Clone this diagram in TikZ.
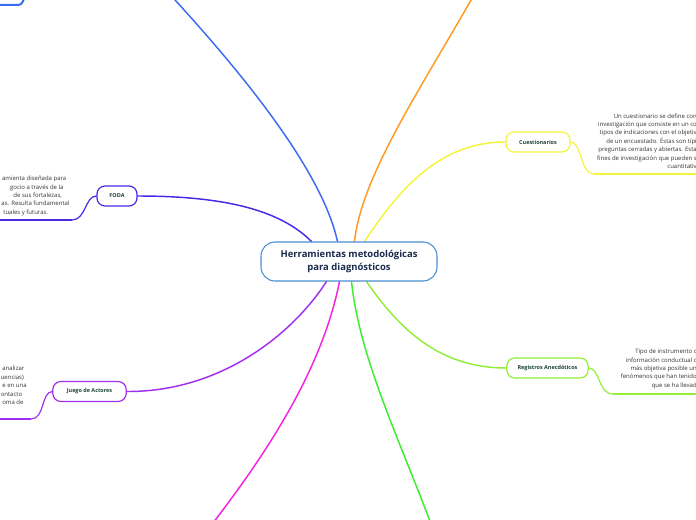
\documentclass[tikz,border=0pt]{standalone}
\usepackage{fontspec}
\setmainfont{Open Sans}
\usetikzlibrary{calc,backgrounds}
\definecolor{cblue}{HTML}{3D6AF2}
\definecolor{corange}{HTML}{FF9A22}
\definecolor{cyellow}{HTML}{F4F43C}
\definecolor{cfoda}{HTML}{4A28E8}
\definecolor{cjuego}{HTML}{A22EF0}
\definecolor{cmag}{HTML}{F522E0}
\definecolor{cgreen}{HTML}{3CEE2E}
\definecolor{clime}{HTML}{92EE36}
\definecolor{cmain}{HTML}{4A8ED4}
\definecolor{cmaintext}{HTML}{1B2B4C}
\definecolor{ctext}{HTML}{1D4438}
\definecolor{cdesc}{HTML}{333333}
\begin{document}
\begin{tikzpicture}[x=0.75pt,y=-0.75pt,
  branch/.style={line width=1.1pt, line cap=round},
  uline/.style={line width=1.5pt},
  mainbox/.style={draw=cmain, fill=white, line width=0.8pt, rounded corners=10.5pt,
    minimum width=132pt, minimum height=29.25pt, inner sep=0pt, align=center,
    text=cmaintext, font=\fontsize{7.1}{9.75}\selectfont\bfseries},
  topic/.style={draw, fill=white, line width=0.9pt, rounded corners=6pt,
    minimum height=15pt, inner sep=0pt, text=ctext,
    font=\fontsize{4.1}{5}\selectfont\bfseries},
  desc/.style={inner sep=0pt, text=cdesc, font=\fontsize{4.5}{6.3}\selectfont}]
\clip (0,0) rectangle (696,520);
\useasboundingbox (0,0) rectangle (696,520);

% central and topic nodes
\node[mainbox] (c) at (349,261.5) {Herramientas metodológicas\\para diagnósticos};
\node[topic, draw=cyellow, minimum width=48pt] (q) at (538,142) {Cuestionarios};
\node[topic, draw=clime, minimum width=61pt] (r) at (547.5,368) {Registros Anecdóticos};
\node[topic, draw=cfoda, minimum width=30pt] (f) at (117,196) {FODA};
\node[topic, draw=cjuego, minimum width=55pt] (j) at (89.5,391.5) {Juego de Actores};

% description texts (clipped at the picture edge)
\node[desc, align=right, anchor=east] (qd) at (697,141) {Un cuestionario se define con\\investigación que consiste en un co\\tipos de indicaciones con el objetiv\\de un encuestado. Éstas son típi\\preguntas cerradas y abiertas. Esta\\fines de investigación que pueden s\\cuantitativ};
\node[desc, align=right, anchor=east] (rd) at (697,369) {Tipo de instrumento c\\información conductual c\\más objetiva posible un\\fenómenos que han tenido\\que se ha llevad};
\node[desc, align=left, anchor=west] (fd) at (0.5,196) {\hspace*{1pt}amienta diseñada para\\\hspace*{7pt}gocio a través de la\\\hspace*{9.5pt}de sus fortalezas,\\\hspace*{0.5pt}as. Resulta fundamental\\\hspace*{2pt}tuales y futuras.};
\node[desc, align=left, anchor=west] (jd) at (0.5,385.5) {\hspace*{1.2pt}analizar\\uencias)\\\hspace*{1.2pt}e en una\\ontacto\\\hspace*{1.2pt}oma de};

% off-picture ends
\coordinate (tb) at (164,-12);
\coordinate (to) at (478,-12);
\coordinate (bm) at (206,532);
\coordinate (bg) at (434,532);
\coordinate (tl1) at (-2,5);
\coordinate (tl2) at (27,-8);
\coordinate (qe) at (698,174);
\coordinate (re) at (698,394);
\coordinate (fe) at (-2,220);
\coordinate (je) at (-2,419);

\begin{scope}[on background layer]
\draw[branch, cblue] (tb) .. controls (240,70) and (322,170) .. ($(c.north west)+(77,0)$);
\draw[branch, corange] (to) .. controls (420,90) and (362,175) .. ($(c.north west)+(94,0)$);
\draw[branch, cyellow] ($(c.north west)+(104,0)$) .. controls (400,188) and (440,142) .. (q.west);
\draw[branch, cfoda] (f.east) .. controls (230,196) and (282,212) .. ($(c.north west)+(51,0)$);
\draw[branch, cjuego] ($(c.south west)+(66,0)$) .. controls (292,335) and (220,392) .. (j.east);
\draw[branch, cmag] ($(c.south west)+(79,0)$) .. controls (322,370) and (266,455) .. (bm);
\draw[branch, cgreen] ($(c.south west)+(91,0)$) .. controls (360,360) and (400,440) .. (bg);
\draw[branch, clime] ($(c.south west)+(106,0)$) .. controls (400,330) and (440,368) .. (r.west);
\end{scope}

% topic-to-text connectors and underlines
\draw[branch, cyellow, line width=0.9pt] (q.east) .. controls (582,142) and (580,174) .. (594,174);
\draw[uline, cyellow] (594,174) -- (qe);
\draw[branch, clime, line width=0.9pt] (r.east) .. controls (600,368) and (598,394) .. (613,394);
\draw[uline, clime] (613,394) -- (re);
\draw[branch, cfoda, line width=0.9pt] (f.west) .. controls (85,196) and (86,220) .. (72,220);
\draw[uline, cfoda] (72,220) -- (fe);
\draw[branch, cjuego, line width=0.9pt] (j.west) .. controls (41,392) and (45,419) .. (31,419);
\draw[uline, cjuego] (31,419) -- (je);
\draw[uline, cblue] (tl1) -- (18,5) .. controls (23,5) and (23,0) .. (tl2);
\end{tikzpicture}
\end{document}
